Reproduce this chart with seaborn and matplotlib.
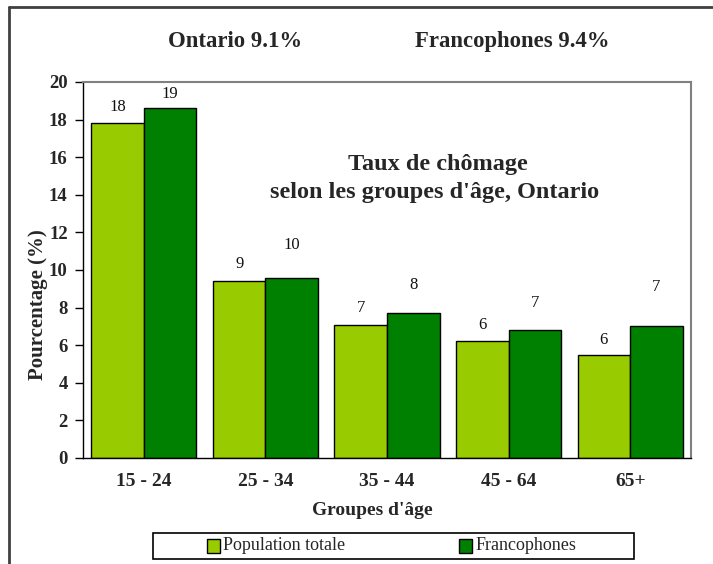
import matplotlib
matplotlib.use("Agg")
import matplotlib.pyplot as plt
import matplotlib.lines as mlines
import matplotlib.patches as mpatches
import seaborn as sns
import pandas as pd
import numpy as np

# ---- data ----
age_groups = ["15 - 24", "25 - 34", "35 - 44", "45 - 64", "65+"]
series_names = ["Population totale", "Francophones"]
population_totale = [17.8, 9.4, 7.1, 6.2, 5.5]
francophones = [18.6, 9.6, 7.7, 6.8, 7.0]
y_ticks = [0, 2, 4, 6, 8, 10, 12, 14, 16, 18, 20]
title_lines = ["Taux de chômage", "selon les groupes d'âge, Ontario"]
summary_texts = ["Ontario 9.1%", "Francophones 9.4%"]

# ---- styling ----
colors = ["#99CC00", "#008000"]
label_pad_px = [[16, 17, 17, 16, 15], [14, 33, 28, 27, 39]]
serif = ["Liberation Serif", "DejaVu Serif"]

sns.set_theme(style="white")
plt.rcParams["font.family"] = serif

df = pd.DataFrame({
    "Groupe": age_groups * 2,
    "Série": [series_names[0]] * len(age_groups) + [series_names[1]] * len(age_groups),
    "Valeur": population_totale + francophones,
})

W, H = 713, 564
def fx(px):
    return px / W
def fy(py):
    return 1 - py / H

fig = plt.figure(figsize=(W / 100, H / 100), dpi=100)
ax = fig.add_axes([fx(83), fy(458), (691 - 83) / W, (458 - 82) / H])

sns.barplot(data=df, x="Groupe", y="Valeur", hue="Série", order=age_groups,
            hue_order=series_names, palette=colors, width=0.864,
            edgecolor="black", linewidth=1.0, saturation=1, ax=ax, legend=False)

ax.set_ylim(0, 20)
ax.set_xlim(-0.5, len(age_groups) - 0.5)
ax.set_yticks(y_ticks)
ax.set_yticklabels([str(t) for t in y_ticks], fontsize=13.5, fontweight="bold")
ax.set_xticks(range(len(age_groups)))
ax.set_xticklabels(age_groups, fontsize=14, fontweight="bold")
ax.set_xticks(np.arange(-0.5, len(age_groups)), minor=True)
ax.tick_params(axis="x", which="major", length=0, pad=11)
ax.tick_params(axis="x", which="minor", length=4.5, width=1, color="black", direction="out")
ax.tick_params(axis="y", which="major", length=6, width=1, color="black", direction="out",
               pad=5, left=True)

ax.set_xlabel("Groupes d'âge", fontsize=14, fontweight="bold")
ax.xaxis.set_label_coords((372 - 83) / 608, (458 - 515) / 376)
ax.xaxis.label.set_va("baseline")
ax.set_ylabel("Pourcentage (%)", fontsize=15, fontweight="bold")
ax.yaxis.set_label_coords((38 - 83) / 608, (458 - 305) / 376)
ax.yaxis.label.set_va("center")

for side in ["left", "bottom"]:
    ax.spines[side].set_color("black")
    ax.spines[side].set_linewidth(1.0)
for side in ["top", "right"]:
    ax.spines[side].set_color("#808080")
    ax.spines[side].set_linewidth(1.5)

# value labels
for h_i, cont in enumerate(ax.containers):
    for b_i, bar in enumerate(cont):
        v = bar.get_height()
        ax.annotate(str(int(v + 0.5)), (bar.get_x() + bar.get_width() / 2, v),
                    xytext=(0, label_pad_px[h_i][b_i] * 0.72), textcoords="offset points",
                    ha="center", va="center", fontsize=12, color="#111111")

# in-plot title (two lines)
fig.text(fx(438), fy(170), title_lines[0], ha="center", va="baseline",
         fontsize=17.5, fontweight="bold")
fig.text(fx(435), fy(198), title_lines[1], ha="center", va="baseline",
         fontsize=17.5, fontweight="bold")

# top summary texts
fig.text(fx(235), fy(47), summary_texts[0], ha="center", va="baseline",
         fontsize=16.4, fontweight="bold")
fig.text(fx(512), fy(47), summary_texts[1], ha="center", va="baseline",
         fontsize=16.4, fontweight="bold")

# legend (box + entries)
fig.add_artist(mpatches.Rectangle((fx(153), fy(559)), (634 - 153) / W, (559 - 533) / H,
                                  transform=fig.transFigure, facecolor="white",
                                  edgecolor="black", linewidth=1.2))
for sq_x, txt_x, name, c in zip([206.5, 458.6], [223.5, 476], series_names, colors):
    fig.add_artist(mpatches.Rectangle((fx(sq_x), fy(552.5)), 13.5 / W, 13.5 / H,
                                      transform=fig.transFigure, facecolor=c,
                                      edgecolor="black", linewidth=1.0))
    fig.text(fx(txt_x), fy(546), name, ha="left", va="center", fontsize=13)

# outer frame (top and left)
fig.add_artist(mlines.Line2D([fx(9), 1], [fy(7), fy(7)], color="#404040", linewidth=2,
                             transform=fig.transFigure))
fig.add_artist(mlines.Line2D([fx(9), fx(9)], [0, fy(7)], color="#404040", linewidth=2,
                             transform=fig.transFigure))

fig.savefig("out.png", dpi=100)
